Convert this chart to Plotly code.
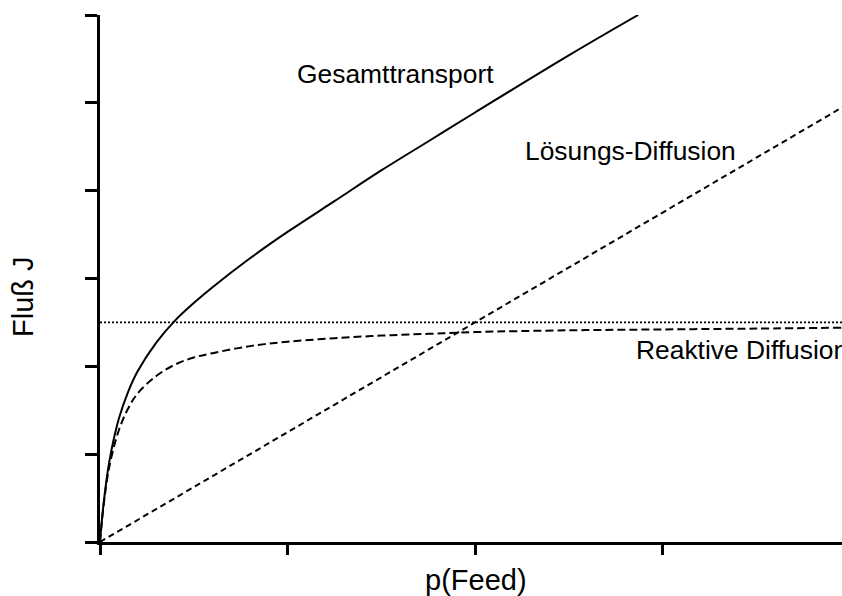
import plotly.graph_objects as go

# Feed pressure samples (arbitrary units) and flux readings for each transport path
p_feed = [0, 0.02, 0.05, 0.1, 0.15, 0.2, 0.3, 0.4, 0.5, 0.6, 0.8, 1.0,
          1.25, 1.5, 1.75, 2.0, 2.5, 3.0, 3.5, 3.96]
j_reaktiv = [0, 0.43, 0.86, 1.27, 1.52, 1.69, 1.89, 2.02, 2.10, 2.15, 2.23, 2.28,
             2.32, 2.35, 2.37, 2.39, 2.41, 2.42, 2.43, 2.44]

p_loesung = [0, 3.96]
j_loesung = [0, 4.95]

p_gesamt = [0, 0.02, 0.05, 0.1, 0.15, 0.2, 0.3, 0.4, 0.5, 0.6, 0.8, 1.0,
            1.25, 1.5, 1.75, 2.0, 2.5, 2.87]
j_gesamt = [0, 0.455, 0.92, 1.40, 1.71, 1.94, 2.27, 2.52, 2.72, 2.90, 3.23, 3.53,
            3.88, 4.23, 4.56, 4.89, 5.54, 6.0]

p_sattigung = [0, 3.96]
j_sattigung = [2.5, 2.5]

y_ticks = [0, 1, 2, 3, 4, 5, 6]
x_ticks = [0, 1, 2, 3]

W, H = 842, 596
L, R, T, B = 100, 0, 15, 54
plot_w = W - L - R
plot_h = H - T - B
x_max = plot_w / 187.5
y_max = 6


def px(x):
    return (x - L) / plot_w


def py(y):
    return (H - B - y) / plot_h


fig = go.Figure()
line_col = "#000000"
fig.add_trace(go.Scatter(x=p_sattigung, y=j_sattigung, mode="lines",
                         line=dict(color=line_col, width=1.8, dash="2px,2px")))
fig.add_trace(go.Scatter(x=p_feed, y=j_reaktiv, mode="lines",
                         line=dict(color=line_col, width=2, dash="8px,4px", shape="spline")))
fig.add_trace(go.Scatter(x=p_loesung, y=j_loesung, mode="lines",
                         line=dict(color=line_col, width=2, dash="6px,4px")))
fig.add_trace(go.Scatter(x=p_gesamt, y=j_gesamt, mode="lines",
                         line=dict(color=line_col, width=2, shape="spline")))

font = "Liberation Sans, Arial, sans-serif"
labels = [
    ("Gesamttransport", 295, 74),
    ("Lösungs-Diffusion", 523, 151),
    ("Reaktive Diffusion", 634, 350),
]
for text, x, y in labels:
    fig.add_annotation(text=text, xref="paper", yref="paper", x=px(x), y=py(y),
                       xanchor="left", yanchor="middle", showarrow=False,
                       font=dict(family=font, size=26.4, color="#000"))

# axis titles
fig.add_annotation(text="p(Feed)", xref="paper", yref="paper", x=px(476), y=py(580),
                   xanchor="center", yanchor="middle", showarrow=False,
                   font=dict(family=font, size=29, color="#000"))
fig.add_annotation(text="Fluß J", xref="paper", yref="paper", x=px(23), y=py(297),
                   xanchor="center", yanchor="middle", showarrow=False, textangle=-90,
                   font=dict(family=font, size=29, color="#000"))

fig.update_layout(
    width=W, height=H,
    margin=dict(l=L, r=R, t=T, b=B),
    paper_bgcolor="white", plot_bgcolor="white",
    showlegend=False,
    font=dict(family=font, color="#000"),
)
fig.update_xaxes(range=[0, x_max], tickvals=x_ticks, showticklabels=False,
                 ticks="outside", ticklen=10, tickwidth=2.5, tickcolor="#000",
                 showline=True, linewidth=2.5, linecolor="#000",
                 showgrid=False, zeroline=False)
fig.update_yaxes(range=[0, y_max], tickvals=y_ticks, showticklabels=False,
                 ticks="outside", ticklen=12, tickwidth=2.5, tickcolor="#000",
                 showline=True, linewidth=2.5, linecolor="#000",
                 showgrid=False, zeroline=False)

fig.write_html("out.html")
